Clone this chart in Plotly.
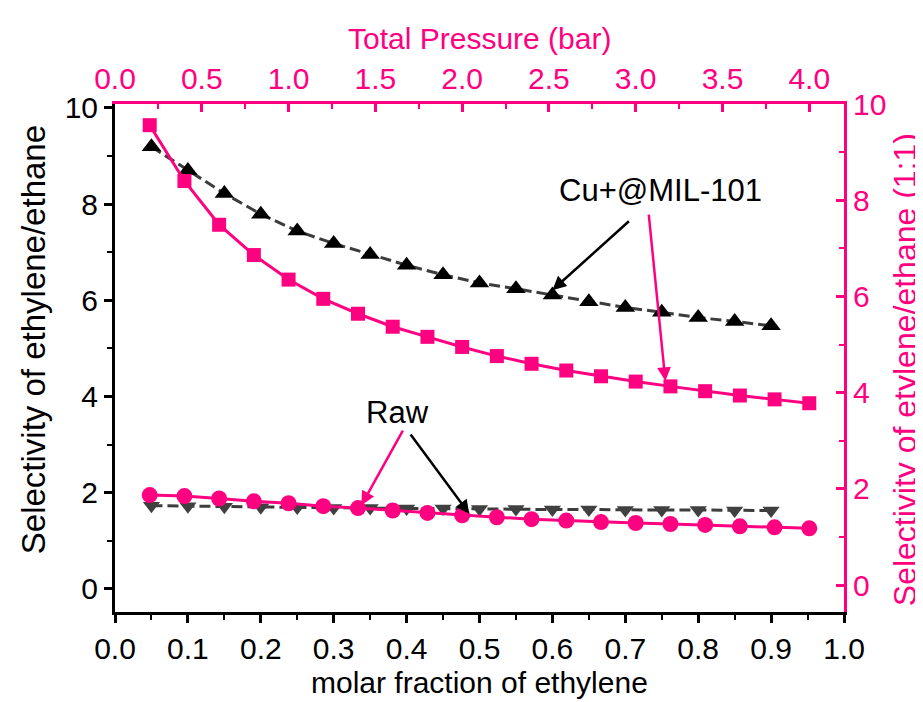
import plotly.graph_objects as go

# ---- data ----
mole_fraction = [0.05, 0.10, 0.15, 0.20, 0.25, 0.30, 0.35, 0.40, 0.45,
                 0.50, 0.55, 0.60, 0.65, 0.70, 0.75, 0.80, 0.85, 0.90]
cu_selectivity = [9.19, 8.70, 8.22, 7.79, 7.44, 7.18, 6.95, 6.73, 6.53,
                  6.36, 6.24, 6.11, 5.97, 5.85, 5.75, 5.64, 5.56, 5.47]
raw_selectivity = [1.73, 1.72, 1.71, 1.70, 1.69, 1.68, 1.68, 1.67, 1.67,
                   1.66, 1.66, 1.65, 1.65, 1.64, 1.64, 1.64, 1.63, 1.63]

total_pressure = [0.2, 0.4, 0.6, 0.8, 1.0, 1.2, 1.4, 1.6, 1.8, 2.0,
                  2.2, 2.4, 2.6, 2.8, 3.0, 3.2, 3.4, 3.6, 3.8, 4.0]
cu_selectivity_11 = [9.56, 8.40, 7.49, 6.86, 6.35, 5.95, 5.64, 5.37, 5.16, 4.95,
                     4.76, 4.60, 4.46, 4.34, 4.23, 4.13, 4.03, 3.94, 3.86, 3.78]
raw_selectivity_11 = [1.87, 1.85, 1.80, 1.74, 1.70, 1.64, 1.60, 1.55, 1.50, 1.45,
                      1.41, 1.37, 1.34, 1.31, 1.29, 1.27, 1.25, 1.22, 1.20, 1.18]

PINK = "#FF0080"
DARK = "#3c3c3c"
FONT = "Liberation Sans, Arial, sans-serif"
FS = 30

fig = go.Figure()
fig.add_trace(go.Scatter(
    x=mole_fraction, y=cu_selectivity, xaxis="x", yaxis="y",
    mode="lines+markers", name="Cu+@MIL-101",
    line=dict(color=DARK, width=3, dash="11px,5px"),
    marker=dict(symbol="triangle-up", size=17, color="black")))
fig.add_trace(go.Scatter(
    x=mole_fraction, y=raw_selectivity, xaxis="x", yaxis="y",
    mode="lines+markers", name="Raw",
    line=dict(color=DARK, width=3, dash="11px,5px"),
    marker=dict(symbol="triangle-down", size=15, color="#404040")))
fig.add_trace(go.Scatter(
    x=total_pressure, y=cu_selectivity_11, xaxis="x2", yaxis="y2",
    mode="lines+markers", name="Cu+@MIL-101 (1:1)",
    line=dict(color=PINK, width=3),
    marker=dict(symbol="square", size=14, color=PINK)))
fig.add_trace(go.Scatter(
    x=total_pressure, y=raw_selectivity_11, xaxis="x2", yaxis="y2",
    mode="lines+markers", name="Raw (1:1)",
    line=dict(color=PINK, width=3),
    marker=dict(symbol="circle", size=16, color=PINK)))

black_axis = dict(showline=True, linecolor="black", linewidth=3, showgrid=False,
                  zeroline=False, ticks="outside", ticklen=8, tickwidth=3,
                  tickcolor="black", tickfont=dict(size=FS, color="black"),
                  automargin=False)
pink_axis = dict(showline=True, linecolor=PINK, linewidth=3, showgrid=False,
                 zeroline=False, ticks="inside", ticklen=8, tickwidth=3,
                 tickcolor=PINK, tickfont=dict(size=FS, color=PINK),
                 automargin=False)

fig.update_layout(
    width=923, height=702,
    margin=dict(l=107, r=87, t=96, b=98),
    paper_bgcolor="white", plot_bgcolor="white",
    font=dict(family=FONT, size=FS, color="black"),
    showlegend=False,
    xaxis=dict(range=[0, 1], dtick=0.1, tick0=0, tickformat=".1f", anchor="y",
               minor=dict(dtick=0.05, ticks="outside", ticklen=5, tickwidth=2,
                          tickcolor="black"),
               **black_axis),
    xaxis2=dict(range=[0, 4.2], dtick=0.5, tick0=0, tickformat=".1f",
                overlaying="x", side="top", anchor="y",
                minor=dict(dtick=0.25, ticks="inside", ticklen=5, tickwidth=2,
                           tickcolor=PINK),
                **pink_axis),
    yaxis=dict(range=[-0.48, 10.08], dtick=2, tick0=0, anchor="x",
               minor=dict(dtick=1, ticks="outside", ticklen=5, tickwidth=2,
                          tickcolor="black"),
               **black_axis),
    yaxis2=dict(range=[-0.56, 10.0], dtick=2, tick0=0,
                overlaying="y", side="right", anchor="x",
                minor=dict(dtick=1, ticks="inside", ticklen=5, tickwidth=2,
                           tickcolor=PINK),
                **pink_axis),
)

annotations = [
    # axis titles
    dict(text="Total Pressure (bar)", xref="paper", yref="paper", x=0.5, y=1,
         yanchor="middle", yshift=66, showarrow=False, font=dict(color=PINK, size=FS)),
    dict(text="molar fraction of ethylene", xref="paper", yref="paper", x=0.5, y=0,
         yanchor="middle", yshift=-70, showarrow=False, font=dict(color="black", size=FS)),
    dict(text="Selectivity of ethylene/ethane", xref="paper", yref="paper", x=0, y=0.535,
         xanchor="center", yanchor="middle", xshift=-82, textangle=-90, showarrow=False,
         font=dict(color="black", size=33)),
    dict(text="Selectivity of etylene/ethane (1:1)", xref="paper", yref="paper", x=1, y=0.476,
         xanchor="center", yanchor="middle", xshift=61, textangle=-90, showarrow=False,
         font=dict(color=PINK, size=32)),
    # labels
    dict(text="Cu+@MIL-101", xref="x", yref="y", x=0.748, y=8.29, showarrow=False,
         font=dict(color="black", size=31)),
    dict(text="Raw", xref="x", yref="y", x=0.387, y=3.66, showarrow=False,
         font=dict(color="black", size=31)),
    # arrows
    dict(text="", xref="x", yref="y", axref="x", ayref="y", x=0.600, y=6.21, ax=0.707, ay=7.67,
         showarrow=True, arrowhead=2, arrowsize=1.1, arrowwidth=2.5, arrowcolor="black"),
    dict(text="", xref="x", yref="y", axref="x", ayref="y", x=0.755, y=4.32, ax=0.732, ay=7.81,
         showarrow=True, arrowhead=2, arrowsize=1.1, arrowwidth=2.5, arrowcolor=PINK),
    dict(text="", xref="x", yref="y", axref="x", ayref="y", x=0.338, y=1.74, ax=0.396, ay=3.32,
         showarrow=True, arrowhead=2, arrowsize=1.1, arrowwidth=2.5, arrowcolor=PINK),
    dict(text="", xref="x", yref="y", axref="x", ayref="y", x=0.486, y=1.56, ax=0.404, ay=3.24,
         showarrow=True, arrowhead=2, arrowsize=1.1, arrowwidth=2.5, arrowcolor="black"),
]
fig.update_layout(annotations=annotations)

fig.write_html("out.html")
